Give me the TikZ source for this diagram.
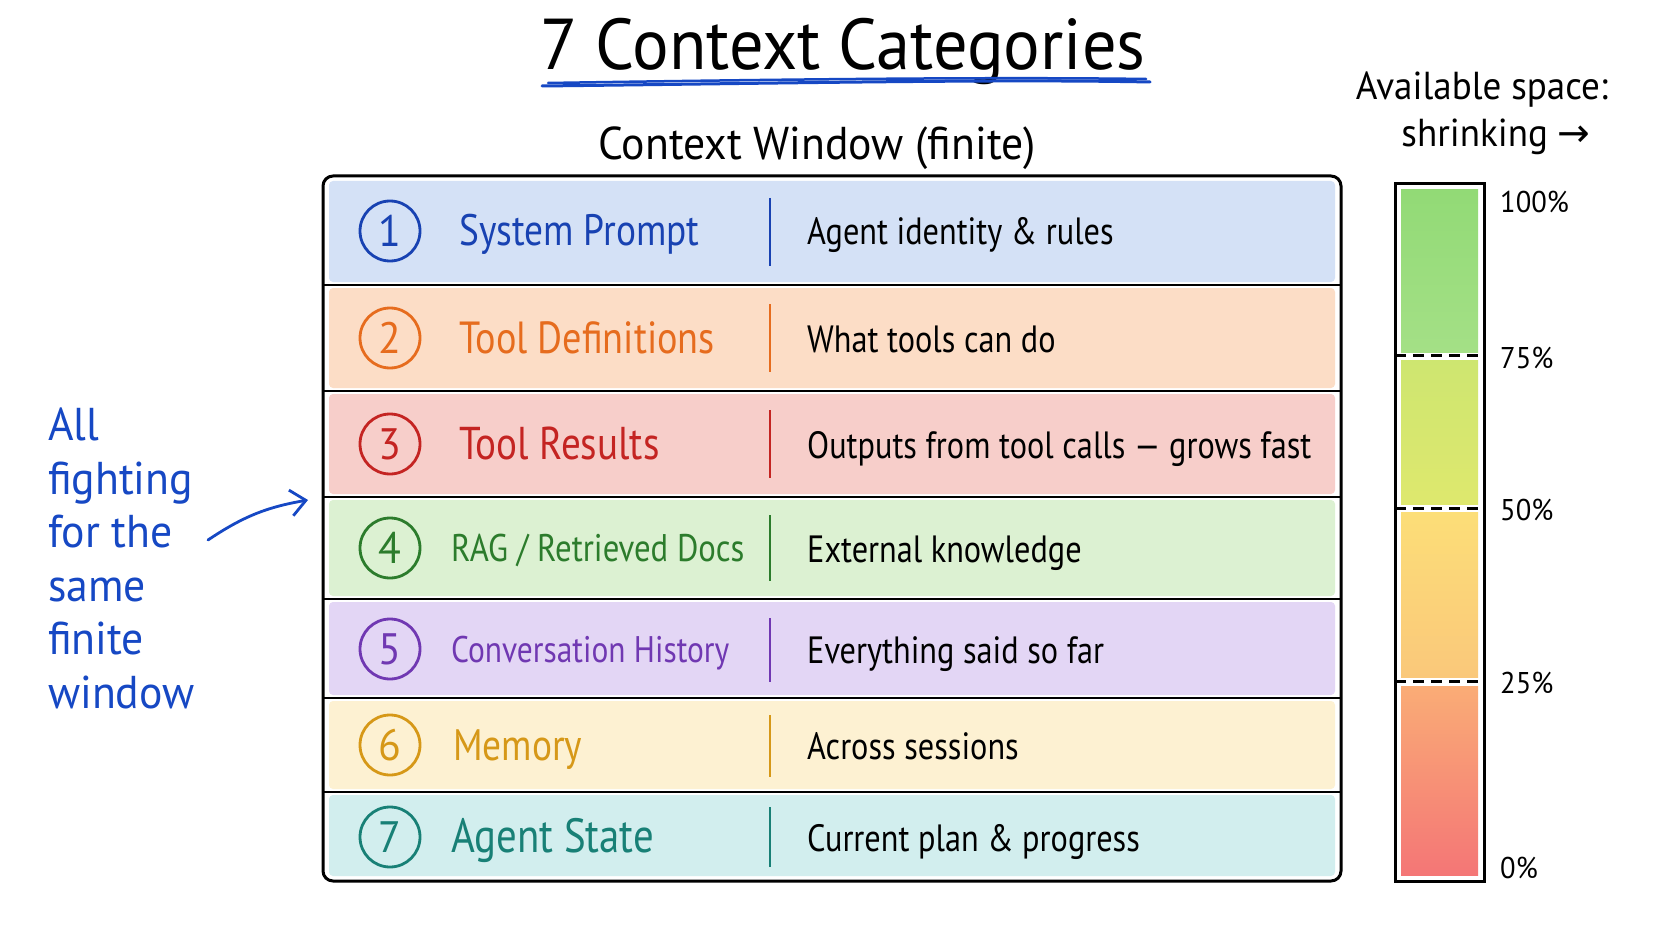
\documentclass[tikz,border=0pt]{standalone}
\usepackage{fontspec}
\setmainfont{PT Sans}[FakeStretch=0.85]
\newfontfamily\handwide{PT Sans}[FakeStretch=0.95]
\newfontfamily\arrowfont{DejaVu Sans}
\usetikzlibrary{arrows.meta}

\definecolor{inkblue}{RGB}{24,66,178}
\definecolor{inkorange}{RGB}{230,108,30}
\definecolor{inkred}{RGB}{196,36,34}
\definecolor{inkgreen}{RGB}{44,124,44}
\definecolor{inkpurple}{RGB}{112,56,178}
\definecolor{inkyellow}{RGB}{214,152,24}
\definecolor{inkteal}{RGB}{24,128,118}
\definecolor{fillblue}{RGB}{212,225,246}
\definecolor{fillorange}{RGB}{252,221,198}
\definecolor{fillred}{RGB}{247,206,202}
\definecolor{fillgreen}{RGB}{220,241,210}
\definecolor{fillpurple}{RGB}{227,214,245}
\definecolor{fillyellow}{RGB}{253,241,210}
\definecolor{fillteal}{RGB}{210,238,238}
\definecolor{notebl}{RGB}{22,72,196}

\newcommand{\fs}[1]{\fontsize{#1}{#1}\selectfont}

\tikzstyle{numcirc}=[circle,line width=2.8pt,minimum size=60pt,inner sep=0pt,font=\handwide\fs{44}]
\tikzstyle{catlabel}=[anchor=base west,inner sep=0pt]
\tikzstyle{catdesc}=[anchor=base west,inner sep=0pt,font=\fs{38}]
\tikzstyle{rowfill}=[rounded corners=4pt]
\tikzstyle{sepbar}=[line width=2.6pt]
\tikzstyle{pctlabel}=[anchor=west,inner sep=0pt,font=\handwide\fs{30}]
\tikzstyle{gaugecut}=[line width=3pt,dash pattern=on 11pt off 7pt]

\begin{document}
\begin{tikzpicture}[x=1pt,y=-1pt]
\useasboundingbox (0,0) rectangle (1672,941);
\fill[white] (0,0) rectangle (1672,941);

% title
\node[anchor=base,inner sep=0pt,font=\handwide\fs{72}] (title) at (843,70) {7 Context Categories};
\draw[notebl,line width=3pt,line cap=round] (542,86) .. controls (800,83) and (1000,79) .. (1150,82);
\draw[notebl,line width=2.5pt,line cap=round] (548,83) .. controls (800,79) and (1000,77) .. (1146,79);
\node[anchor=base,inner sep=0pt,font=\handwide\fs{46}] (subtitle) at (817,160) {Context Window (finite)};

% rows
\fill[rowfill,fillblue] (329,181) rectangle (1335,282);
\fill[rowfill,fillorange] (329,288) rectangle (1335,388);
\fill[rowfill,fillred] (329,394) rectangle (1335,494);
\fill[rowfill,fillgreen] (329,500) rectangle (1335,596);
\fill[rowfill,fillpurple] (329,602) rectangle (1335,695);
\fill[rowfill,fillyellow] (329,701) rectangle (1335,789);
\fill[rowfill,fillteal] (329,795) rectangle (1335,876);

\node[numcirc,draw=inkblue,text=inkblue] (c1) at (390,231) {1};
\node[catlabel,inkblue,font=\fs{44}] (l1) at (459,246) {System Prompt};
\draw[sepbar,inkblue] (770,198) -- (770,266);
\node[catdesc] (d1) at (807,245) {Agent identity \& rules};

\node[numcirc,draw=inkorange,text=inkorange] (c2) at (390,338) {2};
\node[catlabel,inkorange,font=\fs{45}] (l2) at (459,353) {Tool Definitions};
\draw[sepbar,inkorange] (770,304) -- (770,372);
\node[catdesc] (d2) at (807,352) {What tools can do};

\node[numcirc,draw=inkred,text=inkred] (c3) at (390,444) {3};
\node[catlabel,inkred,font=\fs{46}] (l3) at (459,459) {Tool Results};
\draw[sepbar,inkred] (770,410) -- (770,478);
\node[catdesc] (d3) at (807,458) {Outputs from tool calls — grows fast};

\node[numcirc,draw=inkgreen,text=inkgreen] (c4) at (390,548) {4};
\node[catlabel,inkgreen,font=\fs{38.5}] (l4) at (451,561) {RAG / Retrieved Docs};
\draw[sepbar,inkgreen] (770,515) -- (770,581);
\node[catdesc] (d4) at (807,562) {External knowledge};

\node[numcirc,draw=inkpurple,text=inkpurple] (c5) at (390,649) {5};
\node[catlabel,inkpurple,font=\fs{37}] (l5) at (451,662) {Conversation History};
\draw[sepbar,inkpurple] (770,618) -- (770,682);
\node[catdesc] (d5) at (807,663) {Everything said so far};

\node[numcirc,draw=inkyellow,text=inkyellow] (c6) at (390,745) {6};
\node[catlabel,inkyellow,font=\fs{44}] (l6) at (453,760) {Memory};
\draw[sepbar,inkyellow] (770,715) -- (770,777);
\node[catdesc] (d6) at (807,759) {Across sessions};

\node[numcirc,draw=inkteal,text=inkteal] (c7) at (390,837) {7};
\node[catlabel,inkteal,font=\fs{48}] (l7) at (451,852) {Agent State};
\draw[sepbar,inkteal] (770,807) -- (770,867);
\node[catdesc] (d7) at (807,851) {Current plan \& progress};

\draw[line width=2.6pt] (323,285) -- (1341,285);
\draw[line width=2.6pt] (323,391) -- (1341,391);
\draw[line width=2.6pt] (323,497) -- (1341,497);
\draw[line width=2.6pt] (323,599) -- (1341,599);
\draw[line width=2.6pt] (323,698) -- (1341,698);
\draw[line width=2.6pt] (323,792) -- (1341,792);
\draw[line width=3pt,rounded corners=10pt] (323,176) rectangle (1341,881);

% left note
\node[anchor=north west,inner sep=0pt,align=left,text=notebl,font=\handwide\fontsize{46}{53.5}\selectfont] (note) at (48,408) {All\\fighting\\for the\\same\\finite\\window};
\coordinate (nstart) at (208,540);
\coordinate (nend) at (308,500);
\draw[notebl,line width=2.8pt,line cap=round,-{Straight Barb[length=15pt,width=26pt,line width=2.8pt]}] (nstart) to[bend left=12] (nend);

% gauge
\node[inner sep=0pt,font=\handwide\fs{39}] (avail) at (1482,90) {Available space:};
\node[inner sep=0pt,font=\handwide\fs{39}] (shrink) at (1496,137) {shrinking {\arrowfont →}};
\shade[top color={rgb,255:red,146;green,218;blue,118},bottom color={rgb,255:red,164;green,224;blue,134}] (1401,190) rectangle (1478,352);
\shade[top color={rgb,255:red,206;green,230;blue,112},bottom color={rgb,255:red,222;green,232;blue,110}] (1401,360) rectangle (1478,504);
\shade[top color={rgb,255:red,252;green,222;blue,120},bottom color={rgb,255:red,250;green,200;blue,122}] (1401,512) rectangle (1478,677);
\shade[top color={rgb,255:red,250;green,172;blue,118},bottom color={rgb,255:red,244;green,118;blue,118}] (1401,686) rectangle (1478,875);
\draw[gaugecut] (1395,355) -- (1484,355);
\draw[gaugecut] (1395,508) -- (1484,508);
\draw[gaugecut] (1395,681) -- (1484,681);
\draw[line width=3pt] (1395,184) rectangle (1484,881);
\node[pctlabel] (p100) at (1500,202) {100\%};
\node[pctlabel] (p75) at (1500,358) {75\%};
\node[pctlabel] (p50) at (1500,510) {50\%};
\node[pctlabel] (p25) at (1500,683) {25\%};
\node[pctlabel] (p0) at (1500,868) {0\%};
\end{tikzpicture}
\end{document}
